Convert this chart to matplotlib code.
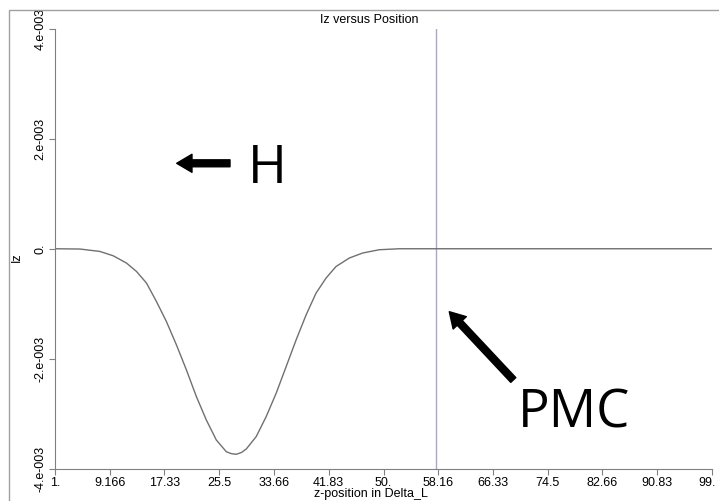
import matplotlib
matplotlib.use("Agg")
import matplotlib.pyplot as plt
import matplotlib.transforms as mtransforms
from matplotlib.patches import Rectangle

# Données (Iz en unités de 1e-3)
z = [1, 4.72, 7.70, 9.68, 11.67, 13.16, 14.65, 16.13, 17.62, 19.11, 20.60,
     22.09, 23.57, 25.06, 26.55, 27.3, 28.04, 28.8, 29.53, 31.01, 32.50,
     33.99, 35.48, 36.97, 38.46, 39.94, 41.43, 42.92, 44.90, 46.88, 49.36,
     52.34, 57.8, 99]
iz = [0, -0.005, -0.049, -0.128, -0.261, -0.414, -0.625, -0.960, -1.325,
      -1.749, -2.205, -2.692, -3.116, -3.481, -3.694, -3.73, -3.741, -3.71,
      -3.645, -3.420, -3.056, -2.630, -2.145, -1.658, -1.203, -0.807, -0.534,
      -0.323, -0.169, -0.078, -0.018, 0, 0, 0]
x_pmc = 57.9

xticks = [1, 9.166, 17.33, 25.5, 33.66, 41.83, 50, 58.16, 66.33, 74.5, 82.66, 90.83, 99]
xlabels = ["1.", "9.166", "17.33", "25.5", "33.66", "41.83", "50.", "58.16",
           "66.33", "74.5", "82.66", "90.83", "99."]
yticks = [-4e-3, -2e-3, 0, 2e-3, 4e-3]
ylabels = ["-4.e-003", "-2.e-003", "0.", "2.e-003", "4.e-003"]

plt.rcParams["font.family"] = ["Liberation Sans", "DejaVu Sans"]

W, H = 719, 501
fig = plt.figure(figsize=(W / 100, H / 100), dpi=100)

# cadre extérieur
fig.patches.append(Rectangle((9 / W, -0.1), 1.0, (H - 10) / H + 0.1,
                             transform=fig.transFigure, fill=False,
                             edgecolor="#a0a0a0", lw=1))

ax = fig.add_axes([55 / W, 32.5 / H, 657 / W, 439.5 / H])
ax.axvline(x_pmc, color="#a8a8c8", lw=1)
ax.plot(z, [v * 1e-3 for v in iz], color="#707070", lw=1)

ax.set_xlim(1, 99)
ax.set_ylim(-4e-3, 4e-3)
ax.set_xticks(xticks)
ax.set_xticklabels(xlabels)
ax.set_yticks(yticks)
ax.set_yticklabels(ylabels, rotation=90, va="center")
for lab in ax.get_yticklabels():
    lab.set_bbox(dict(facecolor="white", edgecolor="none", pad=1))

for s in ["top", "right"]:
    ax.spines[s].set_visible(False)
for s in ["left", "bottom"]:
    ax.spines[s].set_color("#808080")
ax.tick_params(direction="out", length=4, color="#808080", labelsize=9, pad=2)

# le dernier label touche le bord droit
last = ax.get_xticklabels()[-1]
last.set_transform(last.get_transform() +
                   mtransforms.ScaledTranslation(-5 / 100, 0, fig.dpi_scale_trans))

fig.text(369 / W, 1 - 20 / H, "Iz versus Position", ha="center", va="center", fontsize=9)
fig.text(371 / W, 1 - 494 / H, "z-position in Delta_L", ha="center", va="center", fontsize=9)
fig.text(17 / W, 1 - 257 / H, "Iz", rotation=90, ha="center", va="center", fontsize=9)

# flèches et annotations
style = "simple,head_length=1.1,head_width=1.3,tail_width=0.5"
ax.annotate("", xy=(176.7, H - 163.3), xycoords="figure pixels",
            xytext=(230, H - 163.3), textcoords="figure pixels",
            arrowprops=dict(arrowstyle=style, mutation_scale=10, color="black",
                            shrinkA=0, shrinkB=0))
ax.annotate("", xy=(449.3, H - 311.7), xycoords="figure pixels",
            xytext=(513.3, H - 380), textcoords="figure pixels",
            arrowprops=dict(arrowstyle=style, mutation_scale=10, color="black",
                            shrinkA=0, shrinkB=0))
fig.text(248 / W, 1 - 183 / H, "H", fontsize=38, family="Open Sans", va="baseline")
fig.text(518 / W, 1 - 427 / H, "PMC", fontsize=38, family="Open Sans", va="baseline")

fig.savefig("out.png", dpi=100)
